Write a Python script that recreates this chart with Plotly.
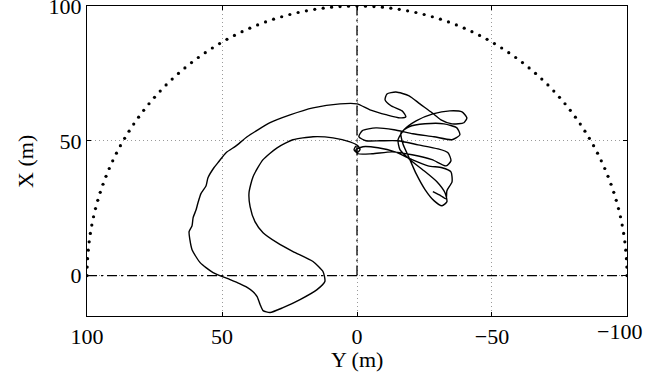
import numpy as np
import plotly.graph_objects as go

# Trajectory (Y, X) in metres
traj_y = [-28.1, -31.1, -33.0, -33.3, -35.2, -34.8, -31.5, -26.3, -20.4, -14.1, -7.8, -2.2, 0.4, -0.4,
          -5.6, -13.0, -20.4, -27.8, -33.0, -34.8, -33.7, -30.0, -22.6, -15.2, -8.5, -3.3, -0.7, -1.9,
          -7.0, -13.7, -20.7, -28.5, -35.2, -38.1, -37.0, -32.2, -25.2, -19.3, -16.3, -17.0, -19.3,
          -21.9, -25.2, -28.5, -31.5, -33.3, -32.6, -29.6, -24.8, -19.6, -15.9, -15.2, -17.4, -21.9,
          -28.1, -34.4, -38.9, -40.7, -39.6, -35.2, -31.1, -27.8, -23.3, -19.3, -14.4, -11.1, -10.4,
          -12.6, -16.7, -18.1, -15.9, -11.1, -4.8, 0.0, 6.3,
          16.3, 24.8, 32.2, 40.7, 44.8, 48.5, 51.5, 53.0, 55.2, 55.9, 57.8, 58.9, 59.6, 60.7, 61.1,
          62.2, 61.9, 61.1, 58.1, 53.3, 47.0, 43.5, 40.7, 38.5, 37.0, 35.9, 34.8, 32.2, 27.4, 21.1,
          14.8, 11.9, 12.6, 16.3, 23.7, 29.6, 34.8, 37.8, 39.6, 40.0, 38.5, 34.8, 29.6, 23.7, 16.3,
          8.9, 2.6, -0.4, -1.1, 0.0, 1.1, 0.4]
traj_x = [31.1, 29.6, 28.5, 31.5, 34.8, 38.5, 40.0, 40.7, 43.0, 45.9, 47.4, 47.8, 46.7, 45.2,
          45.2, 45.9, 44.8, 43.0, 40.7, 42.6, 45.6, 47.0, 48.5, 50.0, 50.0, 50.0, 51.5, 53.7,
          54.8, 54.1, 52.6, 51.5, 50.4, 52.2, 54.8, 56.3, 56.3, 55.2, 53.0, 48.9, 43.7,
          37.8, 31.9, 27.8, 25.9, 27.4, 30.7, 34.8, 38.9, 43.0, 46.7, 50.4, 54.1, 57.4,
          60.0, 61.1, 60.7, 58.5, 56.7, 56.3, 57.8, 60.4, 63.7, 66.7, 68.1, 67.4, 65.2,
          63.0, 61.1, 58.9, 58.5, 59.6, 61.5, 63.7, 63.7,
          62.2, 59.6, 56.7, 51.5, 48.1, 45.6, 41.9, 40.0, 36.3, 33.3, 30.4, 27.0, 24.4, 21.5, 18.5,
          16.3, 13.3, 9.6, 4.8, 1.1, -1.5, -3.0, -4.4, -6.0, -7.8, -10.7, -13.0, -13.7, -11.9, -8.9,
          -5.2, -2.2, 1.5, 5.2, 8.9, 12.2, 15.9, 20.0, 25.6, 30.7, 36.7, 43.0, 47.4, 50.4, 51.5,
          51.1, 49.6, 48.1, 46.7, 45.6, 46.7, 48.1]

radius = 100
x_ticks = [100, 50, 0, -50, -100]
x_ticklabels = ["100", "50", "0", "\u221250", ""]
edge_label = "\u2212100"
y_ticks = [0, 50, 100]

theta = np.linspace(0, np.pi, 101)
circ_y = radius * np.cos(theta)
circ_x = radius * np.sin(theta)

font = "Liberation Serif, Times New Roman, serif"
fig = go.Figure()

fig.add_trace(go.Scatter(x=circ_y, y=circ_x, mode="markers",
                         marker=dict(size=3.2, color="black"), hoverinfo="skip"))
fig.add_trace(go.Scatter(x=[radius, -radius], y=[0, 0], mode="lines",
                         line=dict(color="black", width=1.3, dash="10px,4px,2px,4px")))
fig.add_trace(go.Scatter(x=[0, 0], y=[0, radius], mode="lines",
                         line=dict(color="black", width=1.3, dash="10px,4px,2px,4px")))
fig.add_trace(go.Scatter(x=traj_y, y=traj_x, mode="lines",
                         line=dict(color="black", width=1.4, shape="spline", smoothing=0.6)))

axis_common = dict(showline=True, linecolor="black", linewidth=1.2, mirror="ticks",
                   ticks="inside", ticklen=4, tickcolor="black", tickwidth=1,
                   showgrid=True, gridcolor="#9a9a9a", griddash="1px,3px", gridwidth=1,
                   zeroline=False, ticklabeloverflow="allow", automargin=False,
                   tickfont=dict(family=font, size=22, color="black"))

fig.update_layout(
    width=647, height=383,
    margin=dict(l=87, r=20, t=6, b=67),
    plot_bgcolor="white", paper_bgcolor="white",
    showlegend=False,
    xaxis=dict(range=[100.01, -100.01], tickvals=x_ticks, ticktext=x_ticklabels, **axis_common),
    yaxis=dict(range=[-15, 100.01], tickvals=y_ticks, **axis_common),
    annotations=[
        dict(text=edge_label, x=-100, y=0, xref="x", yref="paper", showarrow=False,
             xanchor="right", yanchor="top", xshift=17, yshift=-1,
             font=dict(family=font, size=22, color="black")),
        dict(text="Y (m)", x=0.5, y=-0.095, xref="paper", yref="paper", showarrow=False,
             yanchor="top", font=dict(family=font, size=22, color="black")),
        dict(text="X (m)", x=-0.115, y=0.5, xref="paper", yref="paper", showarrow=False,
             textangle=-90, xanchor="center", font=dict(family=font, size=22, color="black")),
    ],
)

fig.write_html("out.html", config={"displayModeBar": False},
               post_script="document.body.style.margin='0';document.body.style.overflow='hidden';")
